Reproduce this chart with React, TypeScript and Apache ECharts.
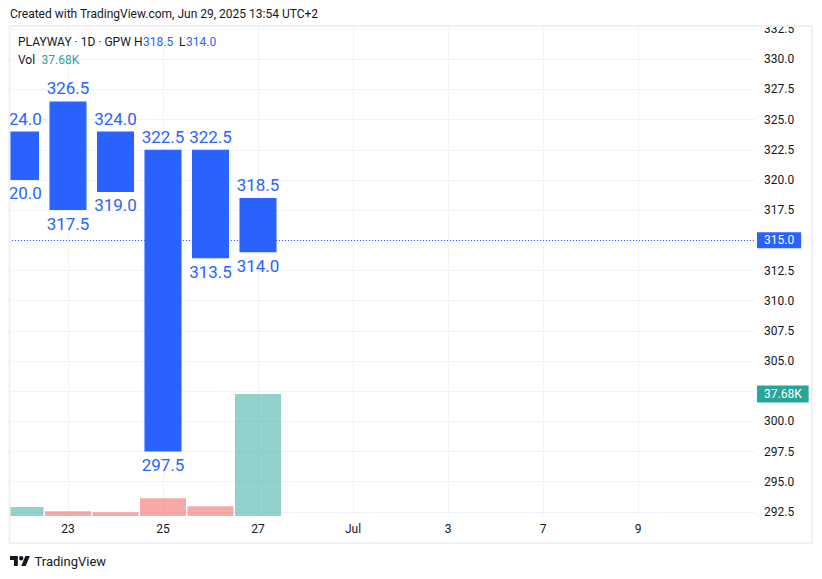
import React, { useEffect, useRef } from 'react';
import * as echarts from 'echarts';

// ---------- data ----------
const tradingDays = ['Jun 20', 'Jun 23', 'Jun 24', 'Jun 25', 'Jun 26', 'Jun 27', 'Jun 30', 'Jul 1', 'Jul 2', 'Jul 3', 'Jul 4', 'Jul 7', 'Jul 8', 'Jul 9', 'Jul 10', 'Jul 11'];
const timeTickLabels = ['', '23', '', '25', '', '27', '', 'Jul', '', '3', '', '7', '', '9', '', ''];
const highs = [324.0, 326.5, 324.0, 322.5, 322.5, 318.5];
const lows = [320.0, 317.5, 319.0, 297.5, 313.5, 314.0];
const volumesK = [2.78, 1.45, 1.14, 5.47, 3.0, 37.68];
const volumeUp = [1, 0, 0, 0, 0, 1];
const lastClose = 315.0;
const symbolTitle = 'PLAYWAY · 1D · GPW';
const headerText = 'Created with TradingView.com, Jun 29, 2025 13:54 UTC+2';

// ---------- styles ----------
const BLUE = '#2962FF';
const TEAL = '#26a69a';
const TEXT = '#131722';
const GRIDC = '#f0f3fa';
const NOLINE = 'rgba(0,0,0,0)';
const FONT = 'Roboto';

echarts.graphic.registerShape(
  'tvlogo',
  echarts.graphic.extendPath('M14 22H7V11H0V4h14v18zM28 22h-8l7.5-18h8L28 22zM24 8a4 4 0 1 1-8 0a4 4 0 1 1 8 0z', {}) as any
);

const last = highs.length - 1;
const rangeData = highs.map((h, i) => [i, lows[i], h]);
const volData = volumesK.map((v, i) => [i, v, volumeUp[i]]);
const priceMin = 292.15;
const priceMax = 332.75;
const volMax = (volumesK[last] * 490) / 122;
const volBadgePrice = priceMin + (volumesK[last] / volMax) * (priceMax - priceMin);

const unitPx = 47.5;
const xMin = -1;
const xMaxPlot = 15.463;
const lastLabelIdx = timeTickLabels.reduce((acc, t, i) => (t ? i : acc), 0);
const xMaxGrid = lastLabelIdx + 0.0001;

const hiddenAxis = (gridIndex: number, min: number, max: number) => ({
  type: 'value',
  gridIndex,
  min,
  max,
  axisLine: { show: false },
  axisTick: { show: false },
  axisLabel: { show: false },
  splitLine: { show: false },
});

const option: any = {
  animation: false,
  backgroundColor: '#ffffff',
  textStyle: { fontFamily: FONT },
  grid: [
    // price + volume plot
    { show: false, left: -27, width: unitPx * (xMaxPlot - xMin), top: 26, height: 490, outerBoundsMode: 'none', containLabel: false },
    // price scale (labels + horizontal grid)
    { show: false, left: 10, right: 67, top: -1.05, height: 543.15, outerBoundsMode: 'none', containLabel: false },
    // time scale (labels + vertical grid)
    { show: false, left: -27, width: unitPx * (xMaxGrid - xMin), top: 26, height: 490, outerBoundsMode: 'none', containLabel: false },
  ],
  xAxis: [
    hiddenAxis(0, xMin, xMaxPlot),
    hiddenAxis(1, 0, 1),
    {
      type: 'value',
      gridIndex: 2,
      min: xMin,
      max: xMaxGrid,
      interval: 2,
      axisLine: { show: false },
      axisTick: { show: false },
      splitLine: { show: true, lineStyle: { color: GRIDC, width: 1 } },
      axisLabel: {
        margin: 7,
        color: TEXT,
        fontSize: 12,
        fontFamily: FONT,
        formatter: (v: number) => (Math.abs(v - Math.round(v)) > 1e-6 ? '' : timeTickLabels[Math.round(v)] ?? ''),
      },
    },
  ],
  yAxis: [
    hiddenAxis(0, priceMin, priceMax),
    hiddenAxis(0, 0, volMax),
    {
      type: 'value',
      gridIndex: 1,
      position: 'right',
      min: 290,
      max: 335,
      interval: 2.5,
      axisLine: { show: false },
      axisTick: { show: false },
      splitLine: { show: true, showMinLine: false, showMaxLine: false, lineStyle: { color: GRIDC, width: 1 } },
      axisLabel: {
        margin: 9,
        color: TEXT,
        fontSize: 12,
        fontFamily: FONT,
        formatter: (v: number) => {
          if (v < 291 || v > 334) return '';
          if (Math.abs(v - lastClose) < 1.2 || Math.abs(v - volBadgePrice) < 1.2) return '';
          return v.toFixed(1);
        },
      },
    },
    hiddenAxis(2, 0, 1),
  ],
  series: [
    {
      type: 'custom',
      name: 'volume',
      xAxisIndex: 0,
      yAxisIndex: 1,
      z: 2,
      encode: { x: 0, y: 1 },
      data: volData,
      renderItem: (params: any, api: any) => {
        const i = api.value(0);
        const v = api.value(1);
        const up = api.value(2);
        const p0 = api.coord([i, 0]);
        const p1 = api.coord([i, v]);
        const w = api.size([1, 0])[0] - 1.5;
        return {
          type: 'rect',
          shape: { x: p0[0] - w / 2, y: p1[1], width: w, height: p0[1] - p1[1] },
          style: { fill: up ? 'rgba(38,166,154,0.5)' : 'rgba(239,83,80,0.5)' },
        };
      },
      markLine: {
        silent: true,
        symbol: ['none', 'none'],
        z: 6,
        lineStyle: { color: NOLINE, width: 0 },
        data: [{ yAxis: volumesK[last] }],
        label: {
          show: true,
          position: 'end',
          distance: 2,
          formatter: () => `${volumesK[last].toFixed(2)}K`,
          backgroundColor: TEAL,
          color: '#ffffff',
          fontSize: 12,
          fontFamily: FONT,
          lineHeight: 13,
          padding: [2, 7, 2, 7],
        },
      },
    },
    {
      type: 'custom',
      name: 'range',
      xAxisIndex: 0,
      yAxisIndex: 0,
      z: 5,
      encode: { x: 0, y: [1, 2] },
      data: rangeData,
      renderItem: (params: any, api: any) => {
        const i = api.value(0);
        const lo = api.value(1);
        const hi = api.value(2);
        const pTop = api.coord([i, hi]);
        const pBot = api.coord([i, lo]);
        const w = api.size([1, 0])[0] * 0.78;
        return {
          type: 'group',
          children: [
            {
              type: 'rect',
              shape: { x: pTop[0] - w / 2, y: pTop[1], width: w, height: pBot[1] - pTop[1] },
              style: { fill: BLUE },
            },
            {
              type: 'text',
              x: pTop[0],
              y: pTop[1] - 13,
              style: { text: hi.toFixed(1), fill: BLUE, fontSize: 17, fontFamily: FONT, align: 'center', verticalAlign: 'middle' },
            },
            {
              type: 'text',
              x: pBot[0],
              y: pBot[1] + 13.5,
              style: { text: lo.toFixed(1), fill: BLUE, fontSize: 17, fontFamily: FONT, align: 'center', verticalAlign: 'middle' },
            },
          ],
        };
      },
      markLine: {
        silent: true,
        symbol: ['none', 'none'],
        z: 3,
        lineStyle: { color: BLUE, type: [1, 2], width: 1 },
        data: [{ yAxis: lastClose }],
        label: {
          show: true,
          position: 'end',
          distance: 2,
          formatter: () => lastClose.toFixed(1),
          backgroundColor: BLUE,
          color: '#ffffff',
          fontSize: 12,
          fontFamily: FONT,
          lineHeight: 12,
          padding: [2, 7, 2, 7],
        },
      },
    },
  ],
  graphic: [
    // left strip cover (clips the partially visible first day)
    { type: 'rect', z: 100, shape: { x: 0, y: 26, width: 9.5, height: 520 }, style: { fill: '#ffffff' } },
    // top-right cover (clips the top price label)
    { type: 'rect', z: 100, shape: { x: 700, y: 0, width: 122, height: 25.5 }, style: { fill: '#ffffff' } },
    // frame
    {
      type: 'rect',
      z: 101,
      shape: { x: 9.5, y: 26, width: 802.5, height: 517 },
      style: { fill: 'none', stroke: '#eef0f3', lineWidth: 2 },
    },
    { type: 'text', z: 102, x: 10, y: 14, style: { text: headerText, fill: TEXT, fontSize: 12, fontFamily: FONT, verticalAlign: 'middle' } },
    { type: 'text', z: 102, x: 18, y: 42, style: { text: symbolTitle, fill: TEXT, fontSize: 12, fontFamily: FONT, verticalAlign: 'middle' } },
    { type: 'text', z: 102, x: 134, y: 42, style: { text: 'H', fill: TEXT, fontSize: 12, fontFamily: FONT, verticalAlign: 'middle' } },
    { type: 'text', z: 102, x: 143, y: 42, style: { text: highs[last].toFixed(1), fill: BLUE, fontSize: 12, fontFamily: FONT, verticalAlign: 'middle' } },
    { type: 'text', z: 102, x: 179, y: 42, style: { text: 'L', fill: TEXT, fontSize: 12, fontFamily: FONT, verticalAlign: 'middle' } },
    { type: 'text', z: 102, x: 186, y: 42, style: { text: lows[last].toFixed(1), fill: BLUE, fontSize: 12, fontFamily: FONT, verticalAlign: 'middle' } },
    { type: 'text', z: 102, x: 18, y: 60, style: { text: 'Vol', fill: TEXT, fontSize: 12, fontFamily: FONT, verticalAlign: 'middle' } },
    { type: 'text', z: 102, x: 41.5, y: 60, style: { text: `${volumesK[last].toFixed(2)}K`, fill: TEAL, fontSize: 12, fontFamily: FONT, verticalAlign: 'middle' } },
    // footer logo
    { type: 'tvlogo', z: 102, x: 10, y: 553.8, scaleX: 0.56, scaleY: 0.56, style: { fill: TEXT } },
    { type: 'text', z: 102, x: 34.5, y: 561, style: { text: 'TradingView', fill: TEXT, fontSize: 13, fontFamily: FONT, verticalAlign: 'middle' } },
  ],
};

export default function App() {
  const ref = useRef<HTMLDivElement>(null);
  useEffect(() => {
    if (!ref.current) return;
    const chart = echarts.init(ref.current, null, { renderer: 'svg' });
    chart.setOption(option);
    return () => chart.dispose();
  }, []);
  return (
    <div
      ref={ref}
      data-days={tradingDays.length}
      style={{ position: 'absolute', left: 0, top: 0, width: 822, height: 579, background: '#ffffff' }}
    />
  );
}
